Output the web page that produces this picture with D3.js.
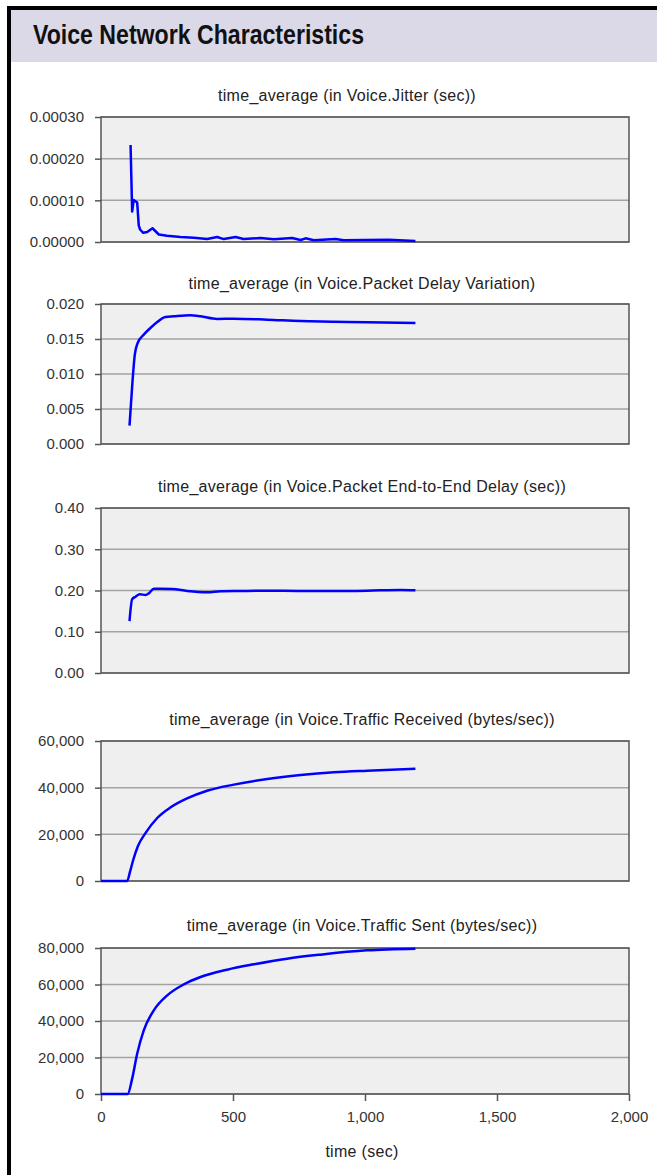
<!DOCTYPE html>
<html>
<head>
<meta charset="utf-8">
<script src="https://cdn.jsdelivr.net/npm/d3@7/dist/d3.min.js"></script>
<style>
  body { margin: 0; background: #fff; }
  svg text { font-family: "Liberation Sans", Arial, sans-serif; }
</style>
</head>
<body>
<div id="chart"></div>
<script>
var svgWidth = 657;
var svgHeight = 1175;

// shared time axis
var xTicks = [0, 500, 1000, 1500, 2000];

// Voice.Jitter (sec)
var jitterTime  = [112, 118, 124, 137, 143, 148, 160, 175, 195, 219, 250, 301, 352, 402, 440, 465, 510, 540, 604, 655, 724, 756, 775, 806, 888, 920, 1000, 1090, 1191];
var jitterValue = [0.000233, 0.000073, 0.000101, 0.000095, 0.000040, 0.000030, 0.000022, 0.000024, 0.000033, 0.000018, 0.000015, 0.000012, 0.000010, 0.000007, 0.000012, 0.000007, 0.000012, 0.000007, 0.0000095, 0.0000064, 0.0000095, 0.0000048, 0.0000088, 0.000004, 0.000007, 0.000004, 0.000005, 0.0000056, 0.0000025];
var jitterTicks = [0, 0.0001, 0.0002, 0.0003];

// Voice.Packet Delay Variation
var pdvTime  = [108, 118, 128, 139, 162, 187, 213, 244, 276, 339, 377, 440, 503, 630, 756, 882, 1008, 1191];
var pdvValue = [0.00262, 0.00824, 0.01276, 0.01443, 0.01562, 0.01657, 0.01743, 0.01814, 0.01824, 0.01838, 0.01824, 0.01786, 0.01790, 0.01776, 0.01757, 0.01748, 0.01738, 0.01729];
var pdvTicks = [0, 0.005, 0.010, 0.015, 0.020];

// Voice.Packet End-to-End Delay (sec)
var e2eTime  = [108, 118, 131, 147, 169, 181, 200, 225, 270, 326, 402, 453, 528, 630, 756, 882, 1008, 1134, 1191];
var e2eValue = [0.126, 0.179, 0.185, 0.191, 0.189, 0.193, 0.204, 0.204, 0.2036, 0.1988, 0.1956, 0.198, 0.1988, 0.1996, 0.1988, 0.1988, 0.1996, 0.2012, 0.2004];
var e2eTicks = [0, 0.10, 0.20, 0.30, 0.40];

// Voice.Traffic Received (bytes/sec)
var recvTime  = [0, 99, 110, 122, 140, 169, 213, 264, 326, 402, 503, 630, 756, 882, 1008, 1191];
var recvValue = [0, 0, 4000, 9000, 15000, 20600, 27000, 31600, 35400, 38700, 41300, 43700, 45400, 46600, 47300, 48100];
var recvTicks = [0, 20000, 40000, 60000];

// Voice.Traffic Sent (bytes/sec)
var sentTime  = [0, 101, 118, 137, 162, 200, 251, 314, 377, 478, 579, 705, 831, 1008, 1191];
var sentValue = [0, 0, 8402, 22100, 34886, 45845, 54064, 60091, 64110, 68128, 71050, 74155, 76347, 78721, 79635];
var sentTicks = [0, 20000, 40000, 60000, 80000];

var titles = [
  "time_average (in Voice.Jitter (sec))",
  "time_average (in Voice.Packet Delay Variation)",
  "time_average (in Voice.Packet End-to-End Delay (sec))",
  "time_average (in Voice.Traffic Received (bytes/sec))",
  "time_average (in Voice.Traffic Sent (bytes/sec))"
];

var panels = [
  {t: jitterTime, v: jitterValue, ticks: jitterTicks, fmt: d3.format(".5f"), curve: d3.curveLinear},
  {t: pdvTime,    v: pdvValue,    ticks: pdvTicks,    fmt: d3.format(".3f"), curve: d3.curveMonotoneX},
  {t: e2eTime,    v: e2eValue,    ticks: e2eTicks,    fmt: d3.format(".2f"), curve: d3.curveMonotoneX},
  {t: recvTime,   v: recvValue,   ticks: recvTicks,   fmt: d3.format(","),   curve: d3.curveMonotoneX},
  {t: sentTime,   v: sentValue,   ticks: sentTicks,   fmt: d3.format(","),   curve: d3.curveMonotoneX}
];

// layout of each panel (top / bottom of plot area, title baseline and centre)
var layout = [
  {top: 117, bottom: 242, titleY: 101, titleX: 347},
  {top: 304, bottom: 444, titleY: 289, titleX: 362},
  {top: 508, bottom: 673, titleY: 492, titleX: 362},
  {top: 741, bottom: 881, titleY: 725, titleX: 362},
  {top: 948, bottom: 1094, titleY: 931, titleX: 362}
];

var plotLeft = 101;
var plotRight = 629;

var svg = d3.select("#chart")
  .append("svg")
  .attr("width", svgWidth)
  .attr("height", svgHeight);

// frame + header
svg.append("rect")
  .attr("x", 9).attr("y", 10)
  .attr("width", svgWidth - 9).attr("height", 52)
  .attr("fill", "#dbd9e8");

svg.append("line")
  .attr("x1", 7).attr("x2", svgWidth)
  .attr("y1", 8).attr("y2", 8)
  .attr("stroke", "#000").attr("stroke-width", 4);

svg.append("line")
  .attr("x1", 9).attr("x2", 9)
  .attr("y1", 6).attr("y2", svgHeight)
  .attr("stroke", "#000").attr("stroke-width", 4);

svg.append("text")
  .attr("x", 33).attr("y", 44)
  .attr("font-size", 27)
  .attr("font-weight", "bold")
  .attr("textLength", 331)
  .attr("lengthAdjust", "spacingAndGlyphs")
  .attr("fill", "#111")
  .text("Voice Network Characteristics");

var xScale = d3.scaleLinear()
  .domain([0, 2000])
  .range([plotLeft, plotRight]);

panels.forEach(function(p, i) {
  var L = layout[i];
  var yScale = d3.scaleLinear()
    .domain([0, d3.max(p.ticks)])
    .range([L.bottom, L.top]);

  var g = svg.append("g");

  g.append("text")
    .attr("x", L.titleX).attr("y", L.titleY)
    .attr("text-anchor", "middle")
    .attr("font-size", 16)
    .attr("letter-spacing", "0.3px")
    .attr("fill", "#222")
    .text(titles[i]);

  g.append("rect")
    .attr("x", plotLeft).attr("y", L.top)
    .attr("width", plotRight - plotLeft)
    .attr("height", L.bottom - L.top)
    .attr("fill", "#efefef");

  // gridlines
  g.selectAll(".grid")
    .data(p.ticks)
    .enter()
    .append("line")
    .attr("x1", plotLeft).attr("x2", plotRight)
    .attr("y1", d => yScale(d)).attr("y2", d => yScale(d))
    .attr("stroke", "#a3a3a3")
    .attr("stroke-width", 1.5);

  var leftAxis = d3.axisLeft(yScale)
    .tickValues(p.ticks)
    .tickFormat(p.fmt)
    .tickSize(6)
    .tickPadding(11);

  var ya = g.append("g")
    .attr("transform", `translate(${plotLeft}, 0)`)
    .call(leftAxis);
  ya.select(".domain").remove();
  ya.selectAll("line").attr("stroke", "#555").attr("stroke-width", 1.5);
  ya.selectAll("text")
    .attr("font-size", 15)
    .attr("fill", "#333")
    .style("font-family", "'Liberation Sans', Arial, sans-serif");

  if (i === panels.length - 1) {
    var bottomAxis = d3.axisBottom(xScale)
      .tickValues(xTicks)
      .tickFormat(d3.format(","))
      .tickSize(7)
      .tickPadding(10);
    var xa = g.append("g")
      .attr("transform", `translate(0, ${L.bottom})`)
      .call(bottomAxis);
    xa.select(".domain").remove();
    xa.selectAll("line").attr("stroke", "#555").attr("stroke-width", 1.5);
    xa.selectAll("text")
      .attr("font-size", 15)
      .attr("fill", "#333")
      .style("font-family", "'Liberation Sans', Arial, sans-serif");

    g.append("text")
      .attr("x", 362).attr("y", 1157)
      .attr("text-anchor", "middle")
      .attr("font-size", 16)
      .attr("letter-spacing", "0.3px")
      .attr("fill", "#222")
      .text("time (sec)");
  }

  g.append("rect")
    .attr("x", plotLeft).attr("y", L.top)
    .attr("width", plotRight - plotLeft)
    .attr("height", L.bottom - L.top)
    .attr("fill", "none")
    .attr("stroke", "#555")
    .attr("stroke-width", 1.5);

  var line = d3.line()
    .x(d => xScale(d[0]))
    .y(d => yScale(d[1]))
    .curve(p.curve);

  g.append("path")
    .datum(p.t.map((t, k) => [t, p.v[k]]))
    .attr("d", line)
    .attr("fill", "none")
    .attr("stroke", "#0000ff")
    .attr("stroke-width", 2.5)
    .attr("stroke-linejoin", "round");
});
</script>
</body>
</html>
